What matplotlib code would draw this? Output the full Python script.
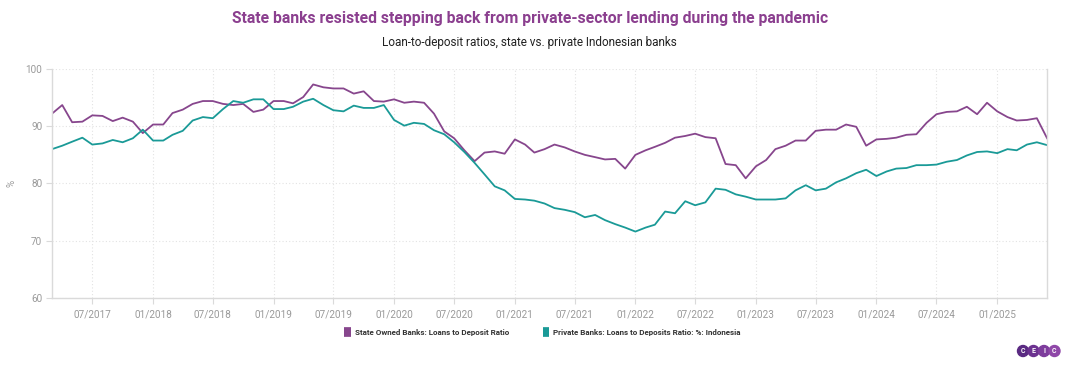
import pandas as pd
import numpy as np
import matplotlib
matplotlib.use("Agg")
import matplotlib.pyplot as plt
import matplotlib.dates as mdates
from matplotlib.patches import Ellipse

# -------------------------------
# Data (monthly, 03/2017 - 06/2025)
# -------------------------------
months = pd.date_range("2017-03-01", "2025-06-01", freq="MS")

state_owned = [
    92.2, 93.7, 90.7, 90.8, 91.9, 91.8, 90.9, 91.5, 90.8, 88.8,
    90.3, 90.3, 92.3, 92.9, 93.9, 94.4, 94.4, 93.9, 93.7, 93.9,
    92.5, 92.9, 94.4, 94.4, 94.0, 95.1, 97.3, 96.8, 96.6, 96.6,
    95.7, 96.1, 94.4, 94.3, 94.7, 94.1, 94.3, 94.1, 92.2, 89.1,
    87.9, 85.8, 83.9, 85.4, 85.6, 85.2, 87.7, 86.8, 85.4, 86.0,
    86.8, 86.3, 85.6, 85.0, 84.6, 84.2, 84.3, 82.6, 85.0, 85.8,
    86.4, 87.1, 88.0, 88.3, 88.7, 88.1, 87.9, 83.4, 83.2, 80.9,
    83.0, 84.1, 86.0, 86.6, 87.5, 87.5, 89.2, 89.4, 89.4, 90.3,
    89.9, 86.6, 87.7, 87.8, 88.0, 88.5, 88.6, 90.6, 92.1, 92.5,
    92.6, 93.4, 92.1, 94.1, 92.6, 91.6, 91.0, 91.1, 91.4, 87.9,
]

private = [
    86.0, 86.6, 87.3, 88.0, 86.8, 87.0, 87.6, 87.2, 87.9, 89.4,
    87.5, 87.5, 88.5, 89.2, 91.0, 91.6, 91.4, 93.0, 94.4, 94.1,
    94.7, 94.7, 93.0, 93.0, 93.4, 94.3, 94.8, 93.7, 92.8, 92.6,
    93.6, 93.2, 93.2, 93.7, 91.1, 90.1, 90.6, 90.4, 89.3, 88.6,
    87.2, 85.5, 83.6, 81.6, 79.5, 78.8, 77.3, 77.2, 77.0, 76.5,
    75.7, 75.4, 75.0, 74.1, 74.5, 73.6, 72.9, 72.3, 71.6, 72.3,
    72.8, 75.1, 74.8, 76.9, 76.2, 76.7, 79.1, 78.9, 78.1, 77.7,
    77.2, 77.2, 77.2, 77.4, 78.8, 79.7, 78.8, 79.1, 80.2, 80.9,
    81.8, 82.4, 81.3, 82.1, 82.6, 82.7, 83.2, 83.2, 83.3, 83.8,
    84.1, 84.9, 85.5, 85.6, 85.3, 86.0, 85.8, 86.8, 87.2, 86.7,
]

series_names = [
    "State Owned Banks: Loans to Deposit Ratio",
    "Private Banks: Loans to Deposits Ratio: %: Indonesia",
]

title = "State banks resisted stepping back from private-sector lending during the pandemic"
subtitle = "Loan-to-deposit ratios, state vs. private Indonesian banks"

PURPLE = "#87468d"
TEAL = "#1a9a97"
GREY = "#9a9a9a"
GRID = "#e3e3e3"

plt.rcParams["font.family"] = ["Roboto", "DejaVu Sans"]

# -------------------------------
# Figure
# -------------------------------
W, H = 1070, 365
fig = plt.figure(figsize=(W / 100, H / 100), dpi=100)
ax = fig.add_axes([0.0486, 0.1836, 0.93, 0.6274])

ax.plot(months, state_owned, color=PURPLE, lw=1.3, label=series_names[0])
ax.plot(months, private, color=TEAL, lw=1.3, label=series_names[1])

ax.set_xlim(months[0], months[-1])
ax.set_ylim(60, 100)
ax.set_yticks([60, 70, 80, 90, 100])

ticks = pd.date_range("2017-07-01", "2025-01-01", freq="6MS")
ax.set_xticks(ticks)
ax.xaxis.set_major_formatter(mdates.DateFormatter("%m/%Y"))

ax.grid(True, color=GRID, lw=0.8, ls=(0, (1, 2)))
ax.spines["top"].set_visible(False)
for s in ["left", "bottom", "right"]:
    ax.spines[s].set_color("#dadada")
    ax.spines[s].set_linewidth(1.0)

ax.tick_params(axis="both", colors="#dadada", labelcolor=GREY, labelsize=7.2, length=4, width=0.8)
ax.tick_params(axis="y", pad=3)
ax.tick_params(axis="x", pad=4)
ax.set_ylabel("%", color=GREY, fontsize=7)
ax.yaxis.set_label_coords(-0.036, 0.5)

fig.text(0.495, 0.950, title, ha="center", va="center", color="#8b3f8f",
         fontsize=11.3, fontweight="bold")
fig.text(0.495, 0.884, subtitle, ha="center", va="center", color="#222222", fontsize=8.5)

leg = fig.legend(loc="center", bbox_to_anchor=(0.507, 0.088), ncol=2, frameon=False,
                 fontsize=5.8, handlelength=0.8, handleheight=0.8, columnspacing=4.2,
                 handletextpad=0.5)
for h in leg.legend_handles:
    h.set_linewidth(7)
    h.set_solid_capstyle("butt")
for t in leg.get_texts():
    t.set_fontweight("bold")
    t.set_color("#333333")

# CEIC badge, bottom right
logo_cols = ["#5a2a82", "#6c3290", "#7d3c9c", "#8f47a8"]
for k, (letter, c) in enumerate(zip("CEIC", logo_cols)):
    cx = (1023 + k * 10.5) / W
    cy = (H - 351) / H
    fig.patches.append(Ellipse((cx, cy), 11 / W, 11 / H, transform=fig.transFigure,
                               color=c, zorder=5))
    fig.text(cx, cy, letter, ha="center", va="center", color="white",
             fontsize=5, fontweight="bold", zorder=6)

plt.savefig("out.png", dpi=100)
